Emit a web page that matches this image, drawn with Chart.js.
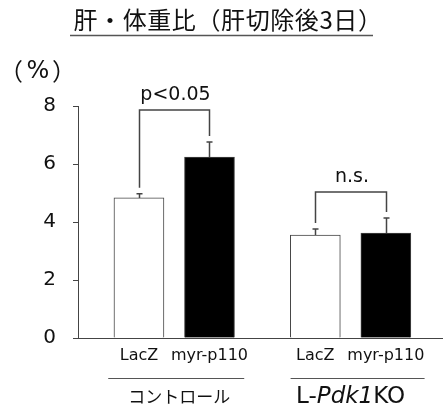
<!DOCTYPE html>
<html>
<head>
<meta charset="utf-8">
<script src="https://cdn.jsdelivr.net/npm/chart.js@4"></script>
<style>
  body { margin: 0; background: #fff; }
  canvas { display: block; }
</style>
</head>
<body>
<canvas id="c" width="443" height="410"></canvas>
<script>
const groups = ['コントロール', 'L-Pdk1KO']
const labels = ['LacZ', 'myr-p110']
const means = [4.83, 6.24, 3.55, 3.62]
const errors = [0.14, 0.52, 0.21, 0.52]
const yTicks = [0, 2, 4, 6, 8]
const marks = ['p<0.05', 'n.s.']

const latin = "'DejaVu Sans', 'Noto Sans CJK JP', sans-serif"
const cjk = "'Noto Sans CJK JP', sans-serif"
const ink = '#444'

// two bars per group, groups 2.5 units apart
const xPos = []
const barLabels = []
const barColors = []
groups.forEach((g, gi) => {
    labels.forEach((l, i) => {
        xPos.push(1 + i + gi * 2.5)
        barLabels.push(l)
        barColors.push(i === 0 ? '#fff' : '#000')
    })
})

const extras = {
    id: 'extras',
    afterDatasetsDraw(chart) {
        const ctx = chart.ctx
        const x = chart.scales.x
        const y = chart.scales.y
        ctx.save()

        // error bars (upper only)
        ctx.strokeStyle = ink
        ctx.lineWidth = 1.5
        means.forEach((m, i) => {
            const px = Math.round(x.getPixelForValue(xPos[i])) + 0.5
            const top = y.getPixelForValue(m + errors[i])
            ctx.beginPath()
            ctx.moveTo(px, y.getPixelForValue(m))
            ctx.lineTo(px, top)
            ctx.moveTo(px - 3, top)
            ctx.lineTo(px + 3, top)
            ctx.stroke()
        })

        // significance brackets
        ctx.lineWidth = 1.5
        groups.forEach((g, gi) => {
            const a = gi * 2, b = gi * 2 + 1
            const xa = Math.round(x.getPixelForValue(xPos[a])) + 0.5
            const xb = Math.round(x.getPixelForValue(xPos[b])) + 0.5
            const ya = y.getPixelForValue(means[a] + errors[a]) - 6
            const yb = y.getPixelForValue(means[b] + errors[b]) - 6
            const top = Math.min(ya, yb) - (gi === 0 ? 26 : 20)
            ctx.beginPath()
            ctx.moveTo(xa, ya)
            ctx.lineTo(xa, top)
            ctx.lineTo(xb, top)
            ctx.lineTo(xb, yb)
            ctx.stroke()
            ctx.fillStyle = '#111'
            ctx.font = '19px ' + latin
            ctx.textAlign = 'center'
            ctx.textBaseline = 'middle'
            ctx.fillText(marks[gi], (xa + xb) / 2 + 1, top - 15)
        })

        // title with underline
        ctx.fillStyle = '#111'
        ctx.font = '24px ' + cjk
        ctx.textAlign = 'center'
        ctx.textBaseline = 'middle'
        ctx.letterSpacing = '0.6px'
        ctx.fillText('肝・体重比（肝切除後3日）', 228, 20)
        ctx.letterSpacing = '0px'
        ctx.strokeStyle = '#555'
        ctx.lineWidth = 1.5
        ctx.beginPath()
        ctx.moveTo(70, 35.5)
        ctx.lineTo(373, 35.5)
        ctx.stroke()

        // unit
        ctx.font = '24px ' + cjk
        ctx.fillText('（', 11, 71)
        ctx.fillText('）', 64, 71)
        ctx.font = '24px ' + latin
        ctx.fillText('%', 38, 72)

        // group lines and labels
        const spans = [[-66, 70], [-60, 74]]
        groups.forEach((g, gi) => {
            const cx = (x.getPixelForValue(xPos[gi * 2]) + x.getPixelForValue(xPos[gi * 2 + 1])) / 2
            ctx.strokeStyle = '#555'
            ctx.lineWidth = 1.2
            ctx.beginPath()
            ctx.moveTo(cx + spans[gi][0], 378.5)
            ctx.lineTo(cx + spans[gi][1], 378.5)
            ctx.stroke()
            ctx.fillStyle = '#111'
            ctx.textBaseline = 'middle'
            if (gi === 0) {
                ctx.font = '17px ' + cjk
                ctx.textAlign = 'center'
                ctx.fillText(g, cx + 5, 397)
            } else {
                const parts = [['L-', 'normal'], ['Pdk1', 'italic'], ['KO', 'normal']]
                ctx.textAlign = 'left'
                let w = 0
                parts.forEach(p => { ctx.font = p[1] + ' 23px ' + latin; w += ctx.measureText(p[0]).width })
                let px = cx - w / 2
                parts.forEach(p => {
                    ctx.font = p[1] + ' 23px ' + latin
                    ctx.fillText(p[0], px, 397)
                    px += ctx.measureText(p[0]).width
                })
            }
        })
        ctx.restore()
    }
}

new Chart(document.getElementById('c'), {
    type: 'bar',
    data: {
        datasets: [{
            data: xPos.map((v, i) => ({ x: v, y: means[i] })),
            backgroundColor: barColors,
            borderColor: ink,
            borderWidth: 1,
            barThickness: 50
        }]
    },
    options: {
        responsive: false,
        animation: false,
        layout: { padding: { top: 106, right: 0, bottom: 0, left: 0 } },
        plugins: { legend: { display: false }, tooltip: { enabled: false } },
        scales: {
            x: {
                type: 'linear',
                offset: false,
                min: 0.136,
                max: 5.31,
                afterFit: s => { s.height = 72 },
                afterBuildTicks: s => { s.ticks = xPos.map(v => ({ value: v })) },
                grid: { offset: false, drawOnChartArea: false, drawTicks: false },
                border: { color: ink, width: 1 },
                ticks: {
                    autoSkip: false,
                    maxRotation: 0,
                    padding: 8,
                    color: '#111',
                    font: { family: latin, size: 16 },
                    callback: (v, i) => barLabels[i]
                }
            },
            y: {
                min: 0,
                max: 8,
                afterFit: s => { s.width = 78 },
                afterBuildTicks: s => { s.ticks = yTicks.map(v => ({ value: v })) },
                grid: { drawOnChartArea: false, drawTicks: true, tickLength: 5, color: ink },
                border: { color: ink, width: 1 },
                ticks: {
                    padding: 17,
                    color: '#111',
                    font: { family: latin, size: 20 }
                }
            }
        }
    },
    plugins: [extras]
})
</script>
</body>
</html>
